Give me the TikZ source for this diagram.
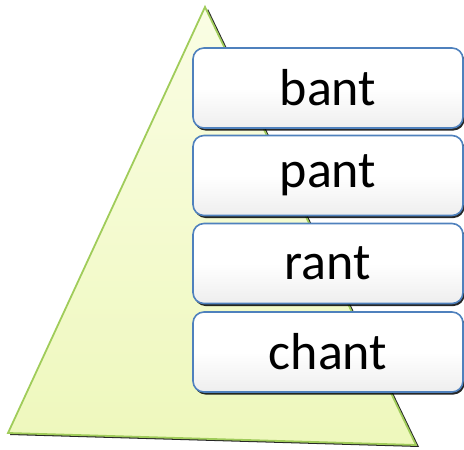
\documentclass[tikz,border=0pt]{standalone}
\usepackage{fontspec}
\setmainfont{Carlito}
\usetikzlibrary{shadows}
\definecolor{trifill}{RGB}{238,248,188}
\definecolor{trifilltop}{RGB}{250,253,228}
\definecolor{triedge}{RGB}{160,204,90}
\definecolor{boxedge}{RGB}{79,129,189}
\definecolor{boxbot}{RGB}{238,238,238}
\tikzset{
  wordbox/.style={draw=boxedge, line width=1.6pt, rounded corners=11pt,
    top color=white, bottom color=boxbot, middle color=white,
    minimum width=270pt, minimum height=80pt, inner sep=0pt,
    font=\fontsize{52}{60}\selectfont, text=black,
    drop shadow={shadow xshift=1.5pt, shadow yshift=-2.5pt, fill=black, opacity=0.85}},
  tri/.style={draw=triedge, line width=1.8pt, top color=trifilltop, bottom color=trifill}
}
\begin{document}
\begin{tikzpicture}[x=1pt,y=-1pt]
\useasboundingbox (0,0) rectangle (464,450);
% triangle shadow
\fill[black!85] (208,9) -- (419,447) -- (10,435) -- cycle;
\coordinate (apex) at (205,7);
\coordinate (bl) at (8,433);
\coordinate (br) at (416,445);
\path[tri] (apex) -- (br) -- (bl) -- cycle;
\node[wordbox] (b1) at (328,88) {bant};
\node[wordbox] (b2) at (328,175.5) {pant};
\node[wordbox] (b3) at (328,263.5) {rant};
\node[wordbox] (b4) at (328,352) {chant};
\end{tikzpicture}
\end{document}
